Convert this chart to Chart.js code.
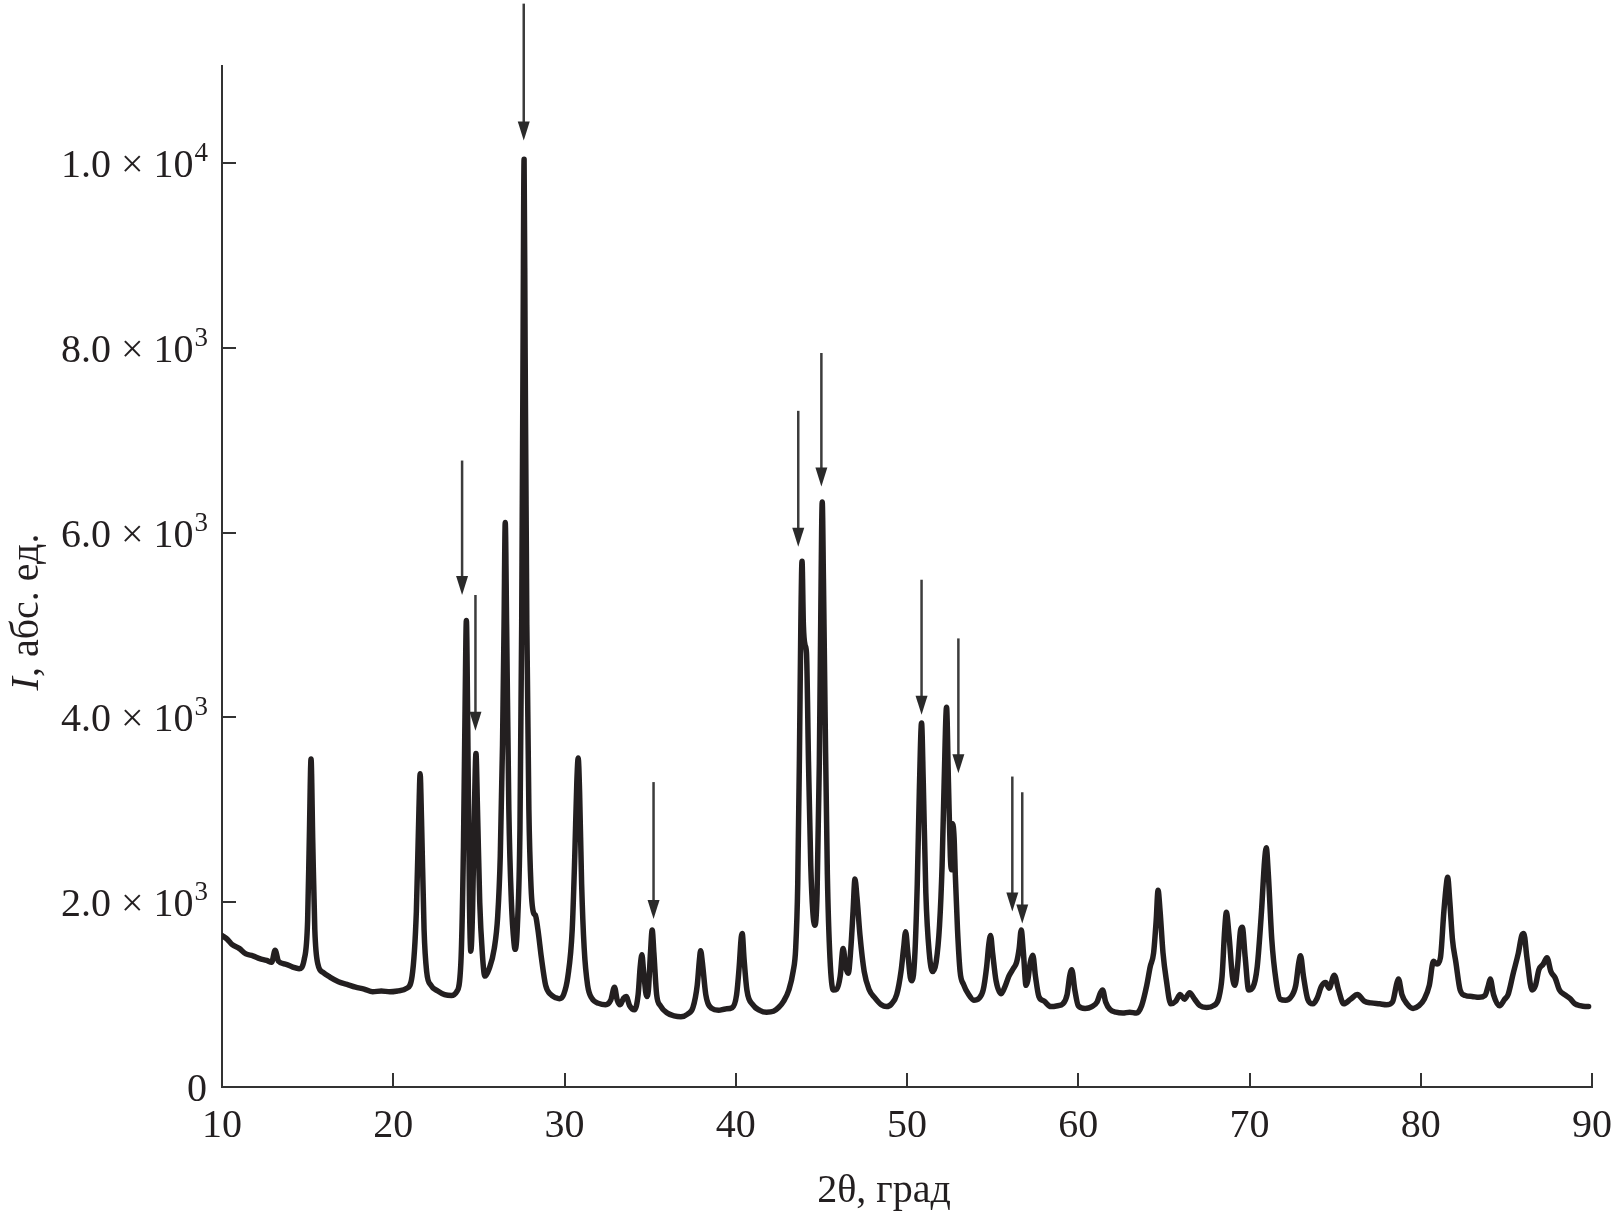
<!DOCTYPE html>
<html>
<head>
<meta charset="utf-8">
<script src="https://cdn.jsdelivr.net/npm/chart.js@4/dist/chart.umd.min.js"></script>
<style>
    html, body { margin: 0; padding: 0; background: #fff; }
    canvas { display: block; }
</style>
</head>
<body>
<canvas id="xrd" width="1613" height="1213"></canvas>
<script>
// Дифрактограмма: 2θ (град) и интенсивность (абс. ед.)
const theta = [
    10.0, 10.3, 10.6, 11.0, 11.4, 11.8, 12.2, 12.6, 12.9, 13.1, 13.3, 13.7, 14.1, 14.5, 14.8,
    15.0, 15.1, 15.2, 15.3, 15.42, 15.6, 15.9, 16.3, 16.8, 17.3, 17.8, 18.3, 18.8, 19.3, 19.8,
    20.3, 20.8, 21.1, 21.35, 21.5, 21.57, 21.65, 21.8, 21.95, 22.2, 22.6, 23.0, 23.4, 23.7, 23.95,
    24.1, 24.2, 24.27, 24.35, 24.45, 24.53, 24.63, 24.74, 24.83, 24.92, 25.05, 25.2, 25.35, 25.6, 25.9,
    26.1, 26.25, 26.38, 26.47, 26.54, 26.62, 26.75, 26.9, 27.05, 27.12, 27.25, 27.4, 27.5, 27.58, 27.64,
    27.7, 27.8, 27.92, 28.05, 28.2, 28.3, 28.45, 28.65, 28.9, 29.2, 29.5, 29.7, 29.95, 30.2, 30.45,
    30.6, 30.72, 30.8, 30.88, 31.0, 31.15, 31.35, 31.6, 32.0, 32.4, 32.7, 32.92, 33.08, 33.25, 33.45,
    33.6, 33.8, 34.08, 34.3, 34.42, 34.52, 34.62, 34.8, 34.9, 35.02, 35.12, 35.22, 35.38, 35.6, 36.0,
    36.4, 36.8, 37.2, 37.5, 37.75, 37.88, 37.95, 38.05, 38.25, 38.6, 39.0, 39.4, 39.8, 40.05, 40.2,
    40.32, 40.38, 40.48, 40.65, 41.0, 41.4, 41.8, 42.2, 42.5, 42.8, 43.1, 43.35, 43.5, 43.62, 43.72,
    43.8, 43.87, 43.95, 44.05, 44.13, 44.25, 44.38, 44.5, 44.62, 44.75, 44.88, 44.97, 45.05, 45.12, 45.22,
    45.35, 45.5, 45.7, 45.9, 46.1, 46.27, 46.42, 46.57, 46.72, 46.85, 46.96, 47.08, 47.25, 47.5, 47.8,
    48.1, 48.5, 48.8, 49.1, 49.4, 49.65, 49.8, 49.92, 50.05, 50.2, 50.3, 50.45, 50.6, 50.72, 50.85,
    50.95, 51.1, 51.3, 51.5, 51.7, 51.9, 52.05, 52.17, 52.31, 52.42, 52.53, 52.6, 52.66, 52.75, 52.82,
    52.95, 53.1, 53.3, 53.6, 53.9, 54.2, 54.45, 54.65, 54.78, 54.88, 55.0, 55.2, 55.5, 55.75, 55.95,
    56.2, 56.4, 56.55, 56.67, 56.8, 56.95, 57.05, 57.2, 57.35, 57.5, 57.7, 58.0, 58.4, 58.8, 59.1,
    59.35, 59.5, 59.62, 59.8, 60.0, 60.4, 60.8, 61.1, 61.3, 61.42, 61.6, 61.85, 62.2, 62.6, 63.0,
    63.4, 63.7, 64.0, 64.2, 64.4, 64.55, 64.66, 64.78, 64.95, 65.15, 65.4, 65.7, 65.95, 66.2, 66.5,
    66.8, 67.1, 67.5, 67.9, 68.2, 68.4, 68.55, 68.65, 68.8, 69.0, 69.15, 69.3, 69.48, 69.58, 69.75,
    69.95, 70.2, 70.45, 70.7, 70.88, 70.98, 71.1, 71.3, 71.55, 71.8, 72.1, 72.4, 72.7, 72.88, 72.98,
    73.15, 73.4, 73.7, 73.95, 74.2, 74.45, 74.65, 74.95, 75.2, 75.5, 75.9, 76.3, 76.7, 77.1, 77.6,
    78.0, 78.35, 78.6, 78.7, 78.9, 79.2, 79.55, 79.9, 80.2, 80.5, 80.74, 80.95, 81.15, 81.35, 81.5,
    81.57, 81.7, 81.85, 82.05, 82.3, 82.6, 83.0, 83.4, 83.75, 83.95, 84.06, 84.25, 84.6, 84.9, 85.1,
    85.4, 85.7, 85.9, 86.02, 86.2, 86.5, 86.7, 86.9, 87.15, 87.37, 87.6, 87.85, 88.1, 88.4, 88.7,
    89.0, 89.3, 89.6, 89.8
];
const intensity = [
    1640, 1600, 1540, 1500, 1440, 1420, 1390, 1370, 1350, 1480, 1360, 1330, 1300, 1280, 1380,
    1800, 2700, 3550, 2650, 1700, 1330, 1240, 1190, 1140, 1110, 1080, 1060, 1030, 1040, 1030,
    1040, 1070, 1200, 1900, 3000, 3390, 2900, 1700, 1250, 1100, 1040, 1000, 990, 1030, 1350,
    2600, 4200, 5050, 3900, 2000, 1470, 1900, 3000, 3610, 3000, 2000, 1450, 1200, 1280, 1500,
    1850, 2500, 3700, 5000, 6110, 5000, 3000, 2000, 1560, 1490, 1750, 2800, 5000, 8000, 10040,
    8000, 5000, 3000, 2150, 1880, 1860, 1700, 1400, 1100, 1000, 965, 955, 1000, 1200, 1700,
    2500, 3300, 3560, 3200, 2200, 1500, 1100, 960, 905, 890, 940, 1080, 940, 890, 960,
    980, 880, 835, 1000, 1300, 1430, 1250, 980, 1050, 1450, 1700, 1450, 1000, 880, 800,
    770, 760, 790, 860, 1100, 1380, 1475, 1350, 1000, 850, 830, 845, 860, 1000, 1300,
    1620, 1660, 1400, 1050, 890, 830, 810, 820, 860, 930, 1050, 1250, 1500, 2200, 3600,
    5000, 5690, 5000, 4780, 4700, 3500, 2400, 1900, 1750, 2100, 3500, 5200, 6330, 5500, 4000,
    2300, 1400, 1050, 1060, 1200, 1500, 1300, 1230, 1500, 1900, 2250, 2050, 1650, 1250, 1050,
    970, 890, 870, 900, 1000, 1250, 1500, 1680, 1450, 1180, 1150, 1400, 2200, 3200, 3940,
    3300, 2100, 1450, 1250, 1350, 1750, 2400, 3300, 4110, 3300, 2500, 2350, 2850, 2700, 2300,
    1700, 1250, 1110, 1000, 940, 960, 1050, 1300, 1550, 1640, 1450, 1150, 1010, 1100, 1200,
    1280, 1350, 1500, 1700, 1450, 1100, 1150, 1350, 1425, 1200, 980, 930, 870, 880, 900,
    1000, 1200, 1270, 1050, 880, 850, 870, 920, 1020, 1050, 920, 840, 810, 800, 810,
    800, 880, 1100, 1300, 1450, 1800, 2130, 1900, 1450, 1150, 900, 930, 1000, 950, 1020,
    950, 880, 860, 880, 960, 1200, 1700, 1890, 1650, 1200, 1100, 1300, 1700, 1730, 1400,
    1050, 1080, 1300, 1900, 2450, 2590, 2300, 1600, 1150, 950, 940, 970, 1100, 1350, 1420,
    1200, 950, 900, 960, 1090, 1130, 1070, 1210, 1050, 900, 950, 1000, 930, 910, 900,
    890, 920, 1120, 1170, 1000, 900, 850, 880, 950, 1100, 1360, 1330, 1400, 1900, 2200,
    2270, 2000, 1600, 1350, 1050, 990, 980, 970, 990, 1100, 1170, 1000, 880, 950, 1000,
    1230, 1450, 1640, 1660, 1400, 1050, 1100, 1270, 1330, 1400, 1250, 1180, 1050, 1000, 960,
    900, 880, 870, 870
];

// Стрелки над пиками: положение 2θ, начало и острие (в единицах интенсивности)
const arrowTheta = [24.02, 24.8, 27.62, 35.2, 43.65, 45.0, 50.85, 53.0, 56.15, 56.73];
const arrowFrom = [6780, 5325, 11725, 3300, 7318, 7944, 5490, 4855, 3360, 3190];
const arrowTo = [5325, 3855, 10244, 1819, 5848, 6499, 4030, 3395, 1900, 1770];

// Подписи делений
const xTickValues = [10, 20, 30, 40, 50, 60, 70, 80, 90];
const yTickValues = [0, 2000, 4000, 6000, 8000, 10000];
const yTickText = ['0', '2.0 × 10', '4.0 × 10', '6.0 × 10', '8.0 × 10', '1.0 × 10'];
const yTickExp = ['', '3', '3', '3', '3', '4'];

const ЦВЕТ_ТЕКСТА = '#231f20';
const ЦВЕТ_ОСИ = '#333333';
const ШРИФТ = "'Liberation Serif', 'Times New Roman', serif";

const puntos = theta.map((t, i) => ({ x: t, y: intensity[i] }));

/**
 * Deleniya, podpisi, nazvaniya osei i strelki
 */
const oformlenie = {
    id: 'oformlenie',
    afterDraw(chart) {
        const ctx = chart.ctx;
        const xs = chart.scales.x;
        const ys = chart.scales.y;
        const area = chart.chartArea;

        ctx.save();
        // deleniya vnutr'
        ctx.strokeStyle = ЦВЕТ_ОСИ;
        ctx.lineWidth = 2;
        xTickValues.forEach(v => {
            const px = Math.round(xs.getPixelForValue(v));
            ctx.beginPath();
            ctx.moveTo(px, area.bottom);
            ctx.lineTo(px, area.bottom - 14);
            ctx.stroke();
        });
        yTickValues.forEach(v => {
            const py = Math.round(ys.getPixelForValue(v));
            ctx.beginPath();
            ctx.moveTo(area.left, py);
            ctx.lineTo(area.left + 14, py);
            ctx.stroke();
        });

        // podpisi x
        ctx.fillStyle = ЦВЕТ_ТЕКСТА;
        ctx.font = '40px ' + ШРИФТ;
        ctx.textAlign = 'center';
        ctx.textBaseline = 'alphabetic';
        xTickValues.forEach(v => {
            ctx.fillText(String(v), xs.getPixelForValue(v), area.bottom + 50);
        });

        // podpisi y s pokazatelem stepeni
        ctx.textAlign = 'left';
        yTickValues.forEach((v, i) => {
            const py = ys.getPixelForValue(v) + 14;
            ctx.font = '40px ' + ШРИФТ;
            const w1 = ctx.measureText(yTickText[i]).width;
            ctx.font = '27px ' + ШРИФТ;
            const w2 = yTickExp[i] ? ctx.measureText(yTickExp[i]).width : 0;
            const x0 = area.left - 15 - w1 - w2;
            ctx.font = '40px ' + ШРИФТ;
            ctx.fillText(yTickText[i], x0, py);
            if (yTickExp[i]) {
                ctx.font = '27px ' + ШРИФТ;
                ctx.fillText(yTickExp[i], x0 + w1 + 1, py - 16);
            }
        });

        // nazvanie osi x
        ctx.font = '40px ' + ШРИФТ;
        ctx.textAlign = 'center';
        ctx.fillText('2θ, град', 884, area.bottom + 115);

        // nazvanie osi y (I kursivom)
        ctx.translate(38, 612);
        ctx.rotate(-Math.PI / 2);
        ctx.textAlign = 'left';
        ctx.font = 'italic 40px ' + ШРИФТ;
        const wI = ctx.measureText('I').width;
        ctx.font = '40px ' + ШРИФТ;
        const wR = ctx.measureText(', абс. ед.').width;
        const x0 = -(wI + wR) / 2;
        ctx.font = 'italic 40px ' + ШРИФТ;
        ctx.fillText('I', x0, 0);
        ctx.font = '40px ' + ШРИФТ;
        ctx.fillText(', абс. ед.', x0 + wI, 0);
        ctx.restore();

        // strelki
        ctx.save();
        ctx.strokeStyle = '#3c3c3c';
        ctx.fillStyle = '#2a2a2a';
        ctx.lineWidth = 2.5;
        arrowTheta.forEach((t, i) => {
            const px = xs.getPixelForValue(t);
            const yTop = ys.getPixelForValue(arrowFrom[i]);
            const yTip = ys.getPixelForValue(arrowTo[i]);
            ctx.beginPath();
            ctx.moveTo(px, yTop);
            ctx.lineTo(px, yTip - 14);
            ctx.stroke();
            ctx.beginPath();
            ctx.moveTo(px - 6, yTip - 19);
            ctx.lineTo(px + 6, yTip - 19);
            ctx.lineTo(px, yTip);
            ctx.closePath();
            ctx.fill();
        });
        ctx.restore();
    }
};

new Chart(document.getElementById('xrd'), {
    type: 'line',
    data: {
        datasets: [{
            data: puntos,
            borderColor: ЦВЕТ_ТЕКСТА,
            borderWidth: 5.5,
            pointRadius: 0,
            cubicInterpolationMode: 'monotone',
            borderJoinStyle: 'round',
            borderCapStyle: 'round',
            fill: false
        }]
    },
    options: {
        responsive: false,
        animation: false,
        devicePixelRatio: 1,
        layout: {
            padding: { left: 222, right: 21, top: 66, bottom: 126 }
        },
        plugins: {
            legend: { display: false },
            tooltip: { enabled: false }
        },
        scales: {
            x: {
                type: 'linear',
                min: 10,
                max: 90,
                grid: { display: false, drawTicks: false },
                border: { display: true, color: ЦВЕТ_ОСИ, width: 2 },
                ticks: { display: false, stepSize: 10 }
            },
            y: {
                type: 'linear',
                min: 0,
                max: 11050,
                grid: { display: false, drawTicks: false },
                border: { display: true, color: ЦВЕТ_ОСИ, width: 2 },
                ticks: { display: false, stepSize: 2000, includeBounds: false }
            }
        }
    },
    plugins: [oformlenie]
});
</script>
</body>
</html>
